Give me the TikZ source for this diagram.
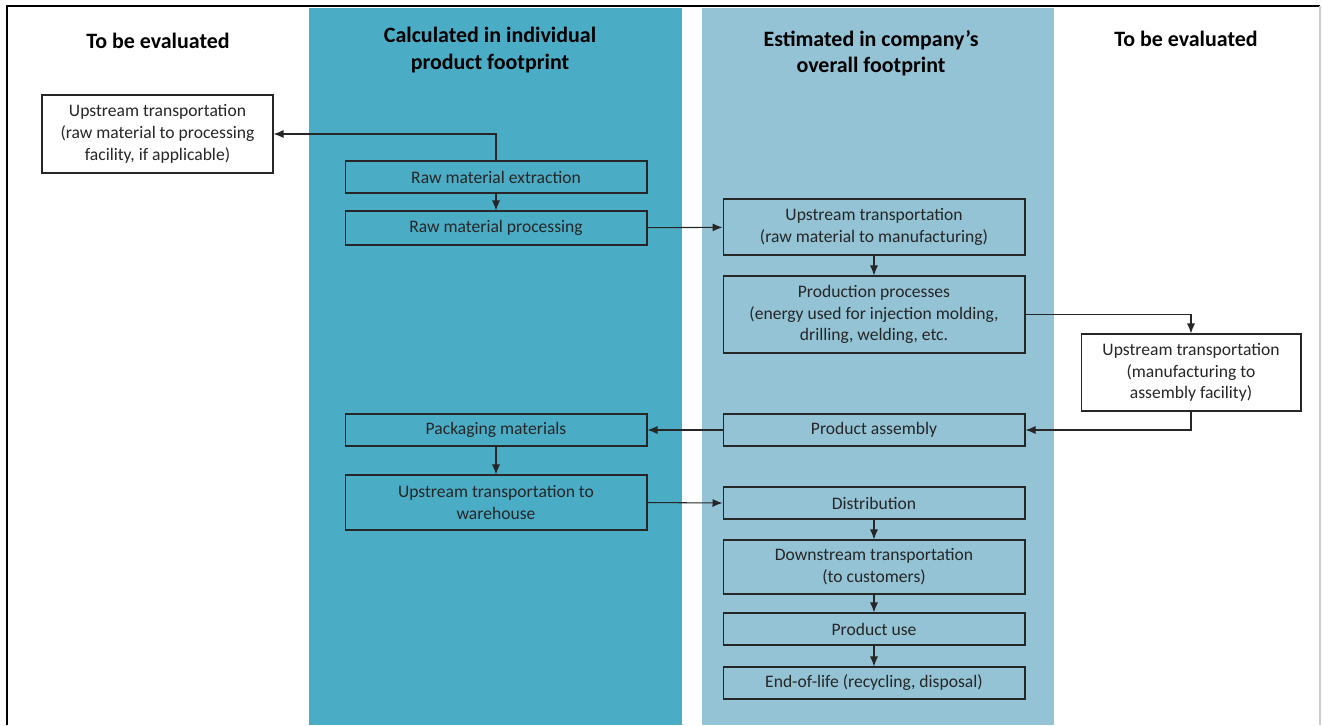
\documentclass[tikz,border=0pt]{standalone}
\usepackage{fontspec}
\setmainfont{Carlito}
\usepackage{xcolor}
\usetikzlibrary{arrows.meta}
\definecolor{tealband}{RGB}{75,172,198}
\definecolor{lightband}{RGB}{147,195,213}

\begin{document}
\begin{tikzpicture}[x=0.02cm, y=-0.02cm,
		every node/.style={font=\fontsize{10}{12.4}\selectfont, text=black!85},
		stepbox/.style={draw=black!85, line width=0.6pt, minimum width=6.04cm, align=center, inner sep=1pt},
		evalbox/.style={stepbox, fill=white},
		head/.style={font=\fontsize{12.5}{15}\selectfont\bfseries, text=black, align=center},
		flow/.style={-{Latex[length=2mm, width=1.6mm]}, line width=0.6pt, black!85}]
		\useasboundingbox (0,0) rectangle (1322,725);
		%
		%Bands
		\fill[tealband] (309,8) rectangle (682,725);
		\fill[lightband] (702,8) rectangle (1054,725);
		%
		%Frame
		\draw[line width=1.3pt] (7,725) -- (7,6) -- (1320,6);
		\draw[black!20, line width=0.6pt] (1320,6) -- (1320,725);
		%
		%Headers
		\node[head] (h1) at (158,41) {To be evaluated};
		\node[head] (h2) at (490,50) {Calculated in individual\\product footprint};
		\node[head] (h3) at (871,53) {Estimated in company’s\\overall footprint};
		\node[head] (h4) at (1186,39) {To be evaluated};
		%
		%Left evaluation box
		\node[evalbox, minimum width=4.62cm, minimum height=1.56cm] (utraw) at (157.5,134)
			{Upstream transportation\\(raw material to processing\\facility, if applicable)};
		%
		%Individual product footprint
		\node[stepbox, minimum height=0.64cm] (extract) at (496,177) {Raw material extraction};
		\node[stepbox, minimum height=0.68cm] (process) at (496,228) {Raw material processing};
		\node[stepbox, minimum height=0.64cm] (pack) at (496,430) {Packaging materials};
		\node[stepbox, minimum height=1.1cm] (utware) at (496,502.5) {Upstream transportation to\\warehouse};
		%
		%Company footprint
		\node[stepbox, minimum height=1.12cm] (utmanu) at (874,227) {Upstream transportation\\(raw material to manufacturing)};
		\node[stepbox, minimum height=1.54cm] (prod) at (874,314.5) {Production processes\\(energy used for injection molding,\\drilling, welding, etc.};
		\node[stepbox, minimum height=0.64cm] (assembly) at (874,430) {Product assembly};
		\node[stepbox, minimum height=0.64cm] (distrib) at (874,503) {Distribution};
		\node[stepbox, minimum height=1.08cm] (downstr) at (874,567) {Downstream transportation\\(to customers)};
		\node[stepbox, minimum height=0.64cm] (use) at (874,629) {Product use};
		\node[stepbox, minimum height=0.64cm] (eol) at (874,683) {End-of-life (recycling, disposal)};
		%
		%Right evaluation box
		\node[evalbox, minimum width=4.4cm, minimum height=1.54cm] (utassem) at (1191,372.5)
			{Upstream transportation\\(manufacturing to\\assembly facility)};
		%
		%Arrows
		\draw[flow] (extract.north) |- (utraw.east);
		\draw[flow] (extract) -- (process);
		\draw[flow] (process) -- (utmanu);
		\draw[flow] (utmanu) -- (prod);
		\draw[flow] (prod.east) -| (utassem.north);
		\draw[flow] (utassem.south) |- (assembly.east);
		\draw[flow] (assembly) -- (pack);
		\draw[flow] (pack) -- (utware);
		\draw[flow] (utware.east) -- (distrib.west);
		\draw[flow] (distrib) -- (downstr);
		\draw[flow] (downstr) -- (use);
		\draw[flow] (use) -- (eol);
	\end{tikzpicture}
\end{document}
